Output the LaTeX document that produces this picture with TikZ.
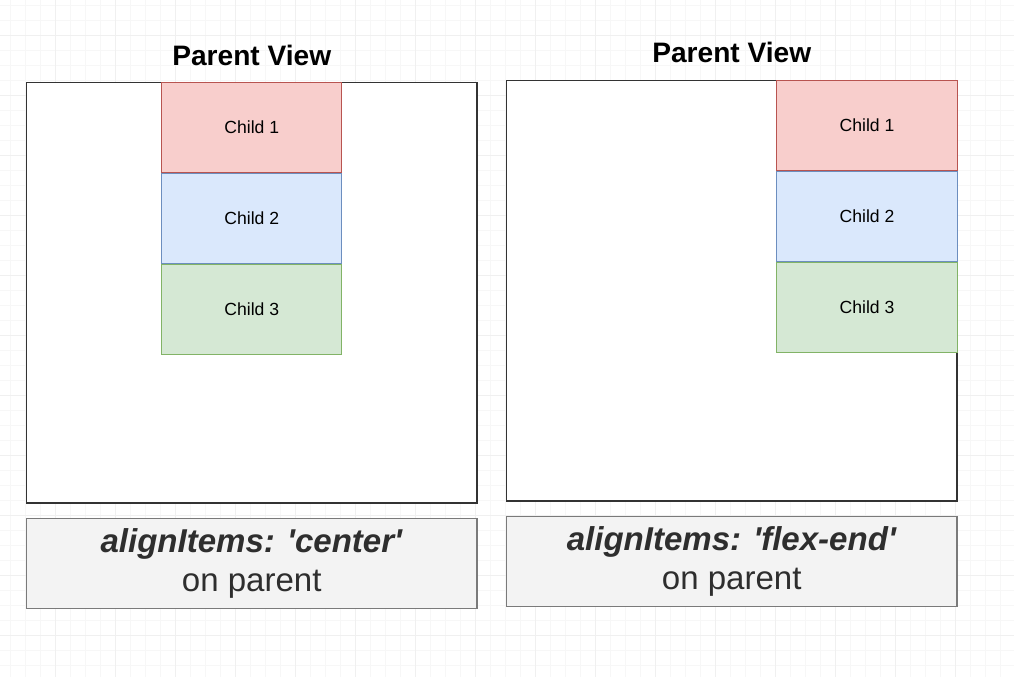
\documentclass[tikz,border=0pt]{standalone}
\usepackage{fontspec}
\setmainfont{Liberation Sans}[Ligatures=TeXOff]
\usetikzlibrary{positioning}

\definecolor{redfill}{HTML}{F8CECC}
\definecolor{redline}{HTML}{B85450}
\definecolor{bluefill}{HTML}{DAE8FC}
\definecolor{blueline}{HTML}{6C8EBF}
\definecolor{greenfill}{HTML}{D5E8D4}
\definecolor{greenline}{HTML}{82B366}
\definecolor{notefill}{HTML}{F3F3F3}
\definecolor{noteline}{HTML}{7A7A7A}
\definecolor{textgray}{HTML}{2E2E2E}

\begin{document}
\begin{tikzpicture}[x=0.025cm, y=-0.025cm,
    gridline/.style={draw=black!3, line width=0.5pt},
    gridmajor/.style={draw=black!6, line width=0.5pt},
    parent/.style={draw=black!80, line width=1pt, fill=white, minimum width=11.25cm, minimum height=10.5cm, inner sep=0pt},
    child/.style={line width=0.7pt, minimum width=4.5cm, minimum height=2.25cm, inner sep=0pt, font=\fontsize{12.5}{15}\selectfont},
    title/.style={font=\fontsize{20}{24}\selectfont\bfseries},
    note/.style={draw=noteline, line width=1pt, fill=notefill, minimum width=11.25cm, minimum height=2.25cm, inner sep=0pt, align=center, text=textgray, font=\fontsize{23.5}{27.6}\selectfont}]

    % Hintergrund
    \useasboundingbox (0,0) rectangle (1014,677);
    \fill[white] (0,0) rectangle (1014,677);
    \foreach \gx in {10,25,...,1010} \draw[gridline] (\gx,0) -- (\gx,677);
    \foreach \gy in {5,20,...,675} \draw[gridline] (0,\gy) -- (1014,\gy);
    \foreach \gx in {55,115,...,1010} \draw[gridmajor] (\gx,0) -- (\gx,677);
    \foreach \gy in {35,95,...,675} \draw[gridmajor] (0,\gy) -- (1014,\gy);

    % linke Seite: center
    \node[parent, anchor=north west] (parA) at (26,82) {};
    \node[title, anchor=base] (titleA) at ([yshift=12pt]parA.north) {Parent View};
    \node[child, draw=redline, fill=redfill, anchor=north] (childA1) at (parA.north) {Child 1};
    \node[child, draw=blueline, fill=bluefill, below=0pt of childA1] (childA2) {Child 2};
    \node[child, draw=greenline, fill=greenfill, below=0pt of childA2] (childA3) {Child 3};
    \node[note, below=0.35cm of parA] (noteA) {\textbf{\textit{alignItems: 'center'}}\\on parent};

    % rechte Seite: flex-end
    \node[parent, anchor=north west] (parB) at (506,80) {};
    \node[title, anchor=base] (titleB) at ([yshift=12.5pt]parB.north) {Parent View};
    \node[child, draw=redline, fill=redfill, anchor=north east] (childB1) at (parB.north east) {Child 1};
    \node[child, draw=blueline, fill=bluefill, below=0pt of childB1] (childB2) {Child 2};
    \node[child, draw=greenline, fill=greenfill, below=0pt of childB2] (childB3) {Child 3};
    \node[note, below=0.35cm of parB] (noteB) {\textbf{\textit{alignItems: 'flex-end'}}\\on parent};
\end{tikzpicture}
\end{document}
